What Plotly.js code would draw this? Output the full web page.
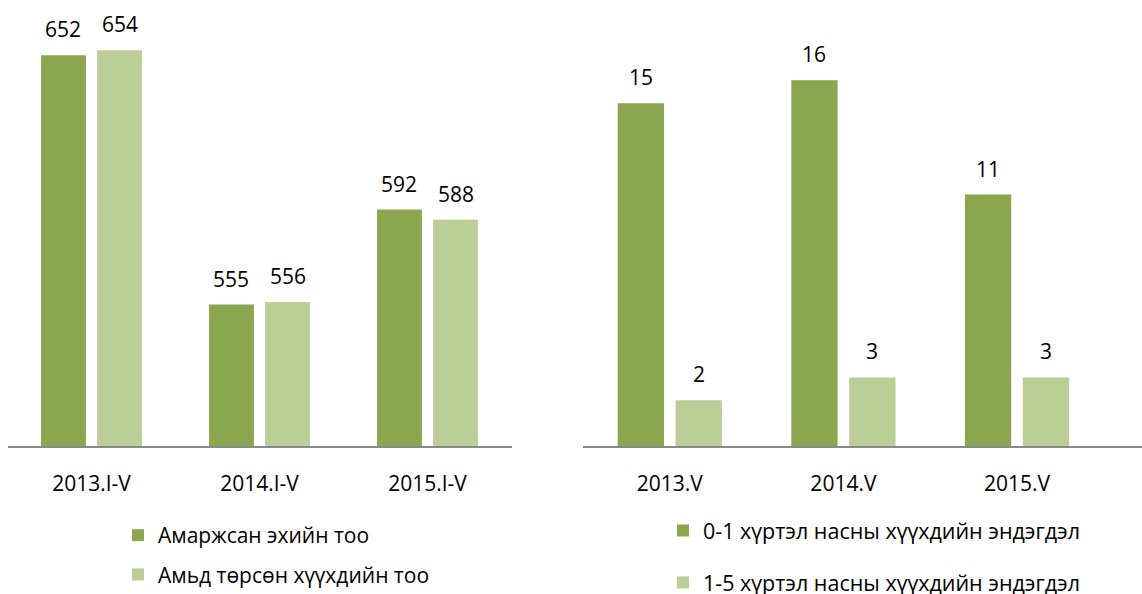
<!DOCTYPE html>
<html>
<head>
<meta charset="utf-8">
<script src="https://cdn.plot.ly/plotly-3.0.1.min.js"></script>
<style>html,body{margin:0;padding:0;background:#fff;}#chart{width:1142px;height:594px;}</style>
</head>
<body>
<div id="chart"></div>
<script>
// ---- data ----
const leftCategories = ["2013.I-V", "2014.I-V", "2015.I-V"];
const mothersDelivered = [652, 555, 592];
const liveBirths = [654, 556, 588];
const leftNames = ["Амаржсан эхийн тоо", "Амьд төрсөн хүүхдийн тоо"];

const rightCategories = ["2013.V", "2014.V", "2015.V"];
const infantDeaths = [15, 16, 11];
const childDeaths = [2, 3, 3];
const rightNames = ["0-1 хүртэл насны хүүхдийн эндэгдэл", "1-5 хүртэл насны хүүхдийн эндэгдэл"];

// ---- style ----
const DARK = "#8AA64F";
const LIGHT = "#B9CF96";
const FONT = "Open Sans, sans-serif";
const W = 1142, H = 594;
const M = {l: 0, r: 0, t: 9, b: 148, autoexpand: false};
const BARGAP = 0.333, GROUPGAP = 0.2;
const xDom1 = [7.5 / W, 511.5 / W];
const xDom2 = [583 / W, 1];
const xRange1 = [-0.5, 2.5];
const xRange2 = [-0.5, 2.72];

function slotShift(dom, range) {
  const px = (dom[1] - dom[0]) * (W - M.l - M.r);
  const perCat = px / (range[1] - range[0]);
  return perCat * (1 - BARGAP) / 2 / 2;
}
const s1 = slotShift(xDom1, xRange1);
const s2 = slotShift(xDom2, xRange2);

const traces = [
  {type: "bar", x: leftCategories, y: mothersDelivered, name: leftNames[0], marker: {color: DARK}, xaxis: "x", yaxis: "y", legend: "legend", legendgroup: "a"},
  {type: "bar", x: leftCategories, y: liveBirths, name: leftNames[1], marker: {color: LIGHT}, xaxis: "x", yaxis: "y", legend: "legend", legendgroup: "b"},
  {type: "bar", x: rightCategories, y: infantDeaths, name: rightNames[0], marker: {color: DARK}, xaxis: "x2", yaxis: "y2", legend: "legend2", legendgroup: "c"},
  {type: "bar", x: rightCategories, y: childDeaths, name: rightNames[1], marker: {color: LIGHT}, xaxis: "x2", yaxis: "y2", legend: "legend2", legendgroup: "d"}
];
traces.forEach(t => { t.hoverinfo = "skip"; });

const annotations = [];
function addLabels(cats, vals, xref, yref, shift) {
  cats.forEach((c, i) => {
    annotations.push({x: c, y: vals[i], xref: xref, yref: yref, text: String(vals[i]),
      showarrow: false, xshift: shift, yshift: 26, yanchor: "middle",
      font: {family: FONT, size: 21, color: "#000"}});
  });
}
addLabels(leftCategories, mothersDelivered, "x", "y", -s1);
addLabels(leftCategories, liveBirths, "x", "y", s1);
addLabels(rightCategories, infantDeaths, "x2", "y2", -s2);
addLabels(rightCategories, childDeaths, "x2", "y2", s2);

const xCommon = {type: "category", showline: true, linecolor: "#898989", linewidth: 2,
  ticks: "outside", ticklen: 18, tickcolor: "rgba(0,0,0,0)", showgrid: false, zeroline: false,
  tickfont: {family: FONT, size: 21, color: "#000"}, fixedrange: true};
const yCommon = {visible: false, showgrid: false, zeroline: false, fixedrange: true};

const plotH = H - M.t - M.b;
const layout = {
  width: W, height: H, margin: M,
  paper_bgcolor: "#fff", plot_bgcolor: "#fff",
  barmode: "group", bargap: BARGAP, bargroupgap: GROUPGAP,
  font: {family: FONT, color: "#000"},
  xaxis: Object.assign({}, xCommon, {domain: xDom1, range: xRange1, anchor: "y"}),
  yaxis: Object.assign({}, yCommon, {range: [500, 670], anchor: "x"}),
  xaxis2: Object.assign({}, xCommon, {domain: xDom2, range: xRange2, anchor: "y2"}),
  yaxis2: Object.assign({}, yCommon, {range: [0, 19.12], anchor: "x2"}),
  legend: {x: 118 / W, xanchor: "left", y: (446 - 515) / plotH, yanchor: "top",
    font: {family: FONT, size: 21, color: "#000"}, tracegroupgap: 9, bgcolor: "rgba(0,0,0,0)"},
  legend2: {x: 663 / W, xanchor: "left", y: (446 - 510) / plotH, yanchor: "top",
    font: {family: FONT, size: 21.5, color: "#000"}, tracegroupgap: 21, bgcolor: "rgba(0,0,0,0)"},
  annotations: annotations,
  showlegend: true
};

Plotly.newPlot("chart", traces, layout, {displayModeBar: false, staticPlot: true});
</script>
</body>
</html>
